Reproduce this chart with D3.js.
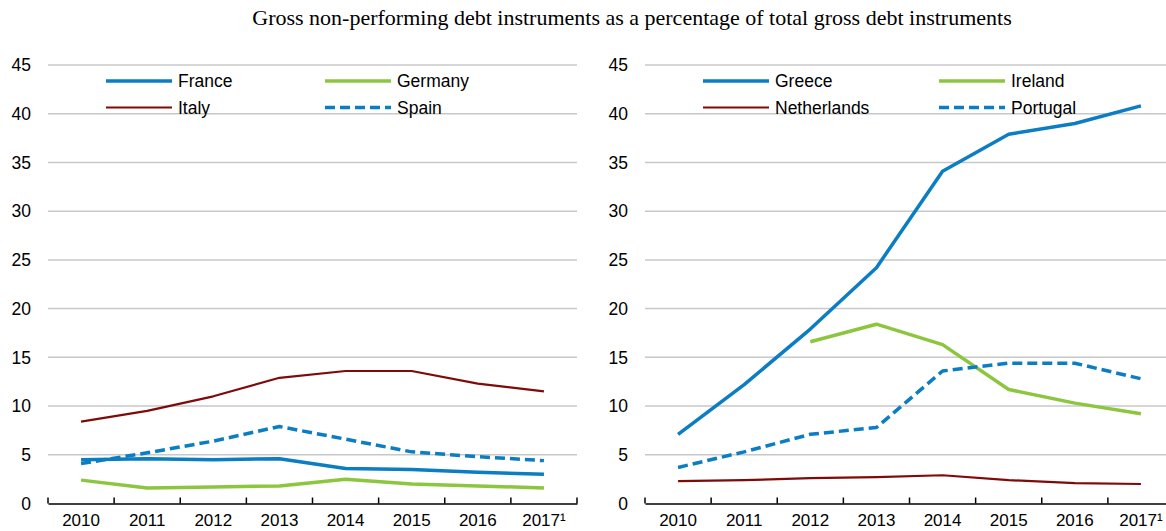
<!DOCTYPE html>
<html><head><meta charset="utf-8">
<script src="https://cdn.jsdelivr.net/npm/d3@7"></script>
<style>
body{margin:0;background:#fff;}
svg{display:block;}
text{font-family:"Liberation Sans",Arial,sans-serif;fill:#000;}
.title{font-family:"Liberation Serif","Times New Roman",serif;}
</style></head>
<body>
<svg id="c" width="1166" height="531"></svg>
<script>
const years = ["2010","2011","2012","2013","2014","2015","2016","2017"];
const yTicks = [0,5,10,15,20,25,30,35,40,45];

const france  = [4.5,4.6,4.5,4.6,3.6,3.5,3.2,3.0];
const germany = [2.4,1.6,1.7,1.8,2.5,2.0,1.8,1.6];
const italy   = [8.4,9.5,11.0,12.9,13.6,13.6,12.3,11.5];
const spain   = [4.1,5.2,6.4,7.9,6.6,5.3,4.8,4.4];

const greece      = [7.1,12.2,17.9,24.2,34.1,37.9,39.0,40.8];
const ireland     = [null,null,16.6,18.4,16.3,11.7,10.3,9.2];
const netherlands = [2.3,2.4,2.6,2.7,2.9,2.4,2.1,2.0];
const portugal    = [3.7,5.3,7.1,7.8,13.6,14.4,14.4,12.8];

const BLUE="#0b7dc3", GREEN="#8cc63f", RED="#7f0a0a";
const styles = {
  France:{c:BLUE,w:3.5,d:null}, Germany:{c:GREEN,w:3.5,d:null},
  Italy:{c:RED,w:2.2,d:null}, Spain:{c:BLUE,w:3.5,d:"10,5"},
  Greece:{c:BLUE,w:3.5,d:null}, Ireland:{c:GREEN,w:3.5,d:null},
  Netherlands:{c:RED,w:2.2,d:null}, Portugal:{c:BLUE,w:3.5,d:"10,5"}
};

const svg = d3.select("#c");
svg.append("text").attr("class","title")
  .attr("x",632).attr("y",25).attr("text-anchor","middle")
  .style("font-size","22px")
  .text("Gross non-performing debt instruments as a percentage of total gross debt instruments");

const y = d3.scaleLinear().domain([0,45]).range([503.5,65]);

function panel(x0,x1,series,legendCols){
  const x = d3.scaleBand().domain(years).range([x0,x1]);
  const g = svg.append("g");
  g.selectAll(".grid").data(yTicks.filter(t=>t>0)).join("line")
    .attr("x1",x0).attr("x2",x1).attr("y1",d=>y(d)).attr("y2",d=>y(d))
    .attr("stroke","#c8c8c8").attr("stroke-width",1.5);
  g.selectAll(".yl").data(yTicks).join("text")
    .attr("x",x0-17).attr("y",d=>y(d)).attr("dy","0.36em")
    .attr("text-anchor","end").style("font-size","17.5px").text(d=>d);
  const ax = d3.axisBottom(x).tickSizeInner(0).tickSizeOuter(0).tickFormat(d=>d==="2017"?"2017¹":d);
  const axg = g.append("g").attr("transform",`translate(0,${y(0)})`).call(ax);
  axg.select(".domain").attr("stroke","#000").attr("stroke-width",1.5);
  axg.selectAll("text").style("font-size","17px").attr("y",10.5).attr("dy","0.71em")
    .attr("font-family","Liberation Sans, Arial, sans-serif").attr("fill","#000");
  const bounds = years.map(d=>x(d)).concat([x0 + x.bandwidth()*years.length]);
  g.selectAll(".bt").data(bounds).join("line")
    .attr("x1",d=>d).attr("x2",d=>d).attr("y1",y(0)).attr("y2",y(0)-6)
    .attr("stroke","#000").attr("stroke-width",1.5);
  const line = d3.line().defined(d=>d.v!=null)
    .x(d=>x(d.yr)+x.bandwidth()/2).y(d=>y(d.v));
  series.forEach(s=>{
    const st = styles[s.name];
    g.append("path").datum(years.map((yr,i)=>({yr,v:s.values[i]})))
      .attr("d",line).attr("fill","none").attr("stroke",st.c)
      .attr("stroke-width",st.w).attr("stroke-dasharray",st.d)
      .attr("stroke-linejoin","round");
  });
  series.forEach((s,i)=>{
    const st = styles[s.name];
    const lx = x0 + legendCols[i%2];
    const ly = i<2 ? 81 : 107.5;
    g.append("line").attr("x1",lx).attr("x2",lx+66).attr("y1",ly).attr("y2",ly)
      .attr("stroke",st.c).attr("stroke-width",st.w).attr("stroke-dasharray",st.d);
    g.append("text").attr("x",lx+72).attr("y",ly).attr("dy","0.35em")
      .style("font-size","17.5px").text(s.name);
  });
}

panel(48,577,[
  {name:"France",values:france},{name:"Germany",values:germany},
  {name:"Italy",values:italy},{name:"Spain",values:spain}],[58,277]);
panel(645,1174,[
  {name:"Greece",values:greece},{name:"Ireland",values:ireland},
  {name:"Netherlands",values:netherlands},{name:"Portugal",values:portugal}],[58,294]);
</script>
</body></html>
